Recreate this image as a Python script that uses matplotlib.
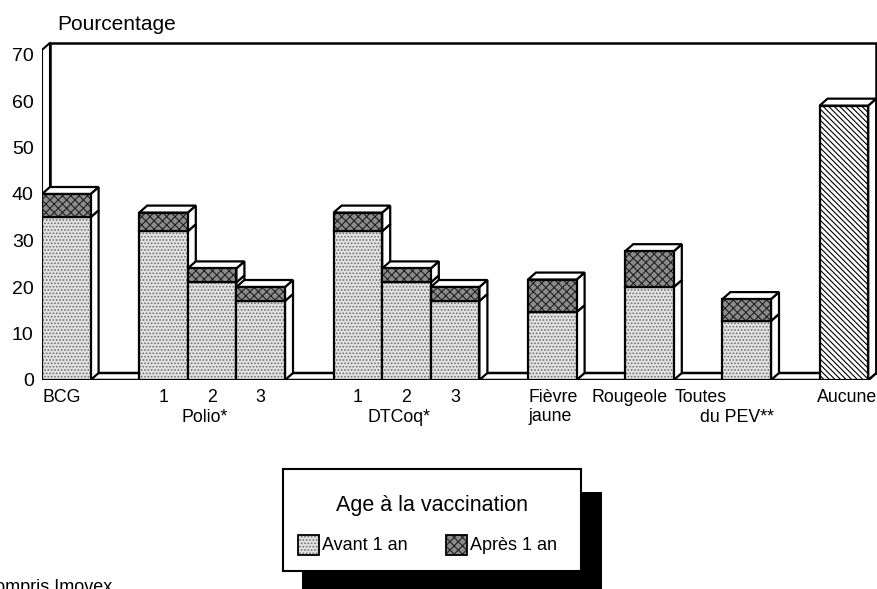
import matplotlib
matplotlib.use("Agg")
import matplotlib.pyplot as plt
from matplotlib.patches import Polygon, Rectangle

plt.rcParams['font.family'] = ['Liberation Sans', 'DejaVu Sans']
plt.rcParams['hatch.linewidth'] = 0.8

# bar slots (one unit per bar, empty slots between groups)
positions = [0, 2, 3, 4, 6, 7, 8, 10, 12, 14, 16]
bar_names = ['BCG', '1', '2', '3', '1', '2', '3', 'Fièvre\njaune', 'Rougeole', 'Toutes', 'Aucune']
avant = [35, 32, 21, 17, 32, 21, 17, 14.6, 20, 12.7, 0]
apres = [5, 4, 3, 3, 4, 3, 3, 7, 7.7, 4.7, 0]
aucune = [0, 0, 0, 0, 0, 0, 0, 0, 0, 0, 59]
group_names = ['Polio*', 'DTCoq*']
group_pos = [3, 7]
yticks = [0, 10, 20, 30, 40, 50, 60, 70]

W, H = 877, 589
fig = plt.figure(figsize=(W / 100, H / 100), dpi=100)
ax = fig.add_axes([42 / W, (H - 380) / H, (W - 42) / W, 340 / H])
px_x, px_y = 48.6, 4.65
ax.set_xlim(-0.5, -0.5 + (W - 42) / px_x)
ax.set_ylim(0, 340 / px_y)
dx, dy = 8 / px_x, 7 / px_y
left, right, wall = -0.5, 16.5, 71
fs = 12.8

for s in ax.spines.values():
    s.set_visible(False)
ax.set_xticks([])
ax.set_yticks(yticks)
ax.tick_params(axis='y', length=0, pad=6, labelsize=14)

# walls and floor
ax.add_patch(Rectangle((left + dx, dy), right - left, wall, facecolor='white',
                       edgecolor='black', lw=1.8, zorder=0.5))
ax.add_patch(Polygon([(left, 0), (left, wall), (left + dx, wall + dy), (left + dx, dy)],
                     facecolor='white', edgecolor='black', lw=1.5, zorder=1))
ax.add_patch(Polygon([(left, 0), (right, 0), (right + dx, dy), (left + dx, dy)],
                     facecolor='white', edgecolor='black', lw=1.8, zorder=1))

styles = {
    'avant': dict(facecolor='#e2e2e2', hatch='.....', hc='#6e6e6e'),
    'apres': dict(facecolor='#8c8c8c', hatch='xxxx', hc='#222222'),
    'aucune': dict(facecolor='white', hatch='\\\\\\\\\\\\', hc='black'),
}


def face(x, b, h, st, z):
    ax.bar(x, h, bottom=b, width=1, facecolor=st['facecolor'], hatch=st['hatch'],
           edgecolor=st['hc'], lw=0, zorder=z)
    ax.bar(x, h, bottom=b, width=1, fill=False, edgecolor='black', lw=1.6, zorder=z)


for i, x in enumerate(positions):
    z = 2 + 3 * i
    segs = []
    if avant[i] > 0:
        segs.append((0, avant[i], styles['avant']))
        segs.append((avant[i], apres[i], styles['apres']))
    if aucune[i] > 0:
        segs.append((0, aucune[i], styles['aucune']))
    for b, h, st in segs:
        ax.add_patch(Polygon([(x + 0.5, b), (x + 0.5 + dx, b + dy),
                              (x + 0.5 + dx, b + h + dy), (x + 0.5, b + h)],
                             facecolor='white', edgecolor='black', lw=1.6, zorder=z))
        face(x, b, h, st, z + 1)
    t = segs[-1][0] + segs[-1][1]
    ax.add_patch(Polygon([(x - 0.5, t), (x - 0.5 + dx, t + dy), (x + 0.5 + dx, t + dy),
                          (x + 0.5, t)], facecolor='white', edgecolor='black', lw=1.6, zorder=z))

# category labels
tr = ax.get_xaxis_transform()
row1 = -(389 - 380) / 340
row2 = -(409 - 380) / 340
for x, name in zip(positions, bar_names):
    if name == 'BCG':
        ax.text(x - 0.5, row1, name, transform=tr, ha='left', va='top', fontsize=fs)
    elif name.startswith('Fièvre'):
        ax.text(x - 0.5, row1, name, transform=tr, ha='left', va='top', fontsize=fs,
                linespacing=1.15)
    elif name == 'Rougeole':
        ax.text(x + 0.38, row1, name, transform=tr, ha='right', va='top', fontsize=fs)
    elif name == 'Toutes':
        ax.text(x - 1.48, row1, name, transform=tr, ha='left', va='top', fontsize=fs)
        ax.text(x - 0.96, row2, 'du PEV**', transform=tr, ha='left', va='top', fontsize=fs)
    elif name == 'Aucune':
        ax.text(x + 0.68, row1, name, transform=tr, ha='right', va='top', fontsize=fs)
    else:
        ax.text(x, row1, name, transform=tr, ha='center', va='top', fontsize=fs)
for x, name in zip(group_pos, group_names):
    ax.text(x - 0.15, row2, name, transform=tr, ha='center', va='top', fontsize=fs)

# overlay in pixel coordinates for title, legend and footnote
lay = fig.add_axes([0, 0, 1, 1], zorder=5)
lay.set_xlim(0, W)
lay.set_ylim(H, 0)
lay.axis('off')
lay.patch.set_alpha(0)

lay.text(57, 24, 'Pourcentage', ha='left', va='center', fontsize=15)

lay.add_patch(Rectangle((302, 492), 300, 120, facecolor='black', edgecolor='none'))
lay.add_patch(Rectangle((283, 469), 298, 102, facecolor='white', edgecolor='black', lw=1.5))
lay.text(432, 505, 'Age à la vaccination', ha='center', va='center', fontsize=15.5)
for px, label, st in [(298, 'Avant 1 an', styles['avant']), (446, 'Après 1 an', styles['apres'])]:
    lay.add_patch(Rectangle((px, 535), 21, 20, facecolor=st['facecolor'], hatch=st['hatch'],
                            edgecolor=st['hc'], lw=0))
    lay.add_patch(Rectangle((px, 535), 21, 20, fill=False, edgecolor='black', lw=1.3))
    lay.text(px + 24, 545, label, ha='left', va='center', fontsize=13)

lay.text(112, 579, '* y compris Imovex', ha='right', va='top', fontsize=13)

fig.savefig('out.png', dpi=100)
